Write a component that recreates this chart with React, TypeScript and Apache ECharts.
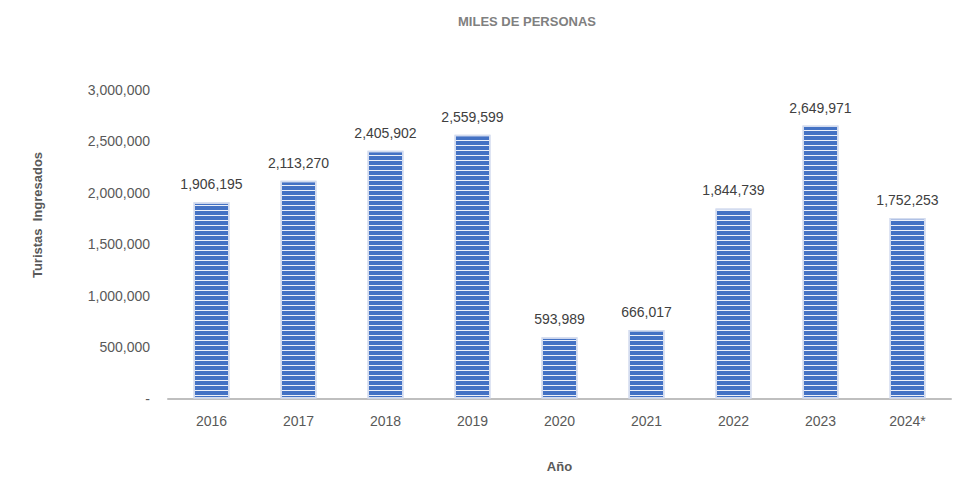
import React, { useEffect, useRef } from "react";
import * as echarts from "echarts";

const categories = ["2016", "2017", "2018", "2019", "2020", "2021", "2022", "2023", "2024*"];
const turistas = [1906195, 2113270, 2405902, 2559599, 593989, 666017, 1844739, 2649971, 1752253];
const titleText = "MILES DE PERSONAS";
const yName = "Turistas  Ingresados";
const xName = "Año";

const fmt = (v: number) => (v === 0 ? "-" : v.toLocaleString("en-US"));

export default function App() {
  const ref = useRef<HTMLDivElement>(null);
  useEffect(() => {
    if (!ref.current) return;
    const chart = echarts.init(ref.current, undefined, { renderer: "svg" });
    chart.setOption({
      animation: false,
      textStyle: { fontFamily: "Liberation Sans, Arial, sans-serif" },
      title: {
        text: titleText,
        left: 522,
        textAlign: "center",
        top: 10,
        textStyle: { fontSize: 13, fontWeight: "bold", color: "#808080" },
      },
      graphic: [
        {
          type: "text",
          x: 37,
          y: 215,
          rotation: Math.PI / 2,
          style: {
            text: yName,
            fontSize: 13,
            fontWeight: "bold",
            fill: "#595959",
            align: "center",
            verticalAlign: "middle",
            fontFamily: "Liberation Sans, Arial, sans-serif",
          },
        },
      ],
      grid: { left: 168, right: 8, top: 89.5, bottom: 79.5, containLabel: false },
      xAxis: {
        type: "category",
        data: categories,
        name: xName,
        nameLocation: "middle",
        nameGap: 61,
        nameTextStyle: { fontSize: 13, fontWeight: "bold", color: "#595959" },
        axisLine: { lineStyle: { color: "#bfbfbf", width: 2 } },
        axisTick: { show: false },
        axisLabel: { fontSize: 14, color: "#595959", margin: 15 },
      },
      yAxis: {
        type: "value",
        min: 0,
        max: 3000000,
        interval: 500000,
        axisLine: { show: false },
        axisTick: { show: false },
        splitLine: { show: false },
        axisLabel: { fontSize: 14, color: "#595959", margin: 18, formatter: (v: number) => fmt(v) },
      },
      series: [
        {
          type: "bar",
          data: turistas,
          barWidth: 36,
          itemStyle: {
            color: "#4472c4",
            borderColor: "#d3dcef",
            borderWidth: 1.5,
            decal: {
              symbol: "rect",
              symbolSize: 1,
              dashArrayX: [1, 0],
              dashArrayY: [1, 3.3],
              color: "rgba(255,255,255,0.9)",
            },
          },
          label: {
            show: true,
            position: "top",
            distance: 11,
            fontSize: 14,
            color: "#404040",
            formatter: (p: any) => fmt(p.value),
          },
        },
      ],
    });
    return () => chart.dispose();
  }, []);
  return <div ref={ref} style={{ width: 959, height: 478, position: "absolute", left: 0, top: 0 }} />;
}
